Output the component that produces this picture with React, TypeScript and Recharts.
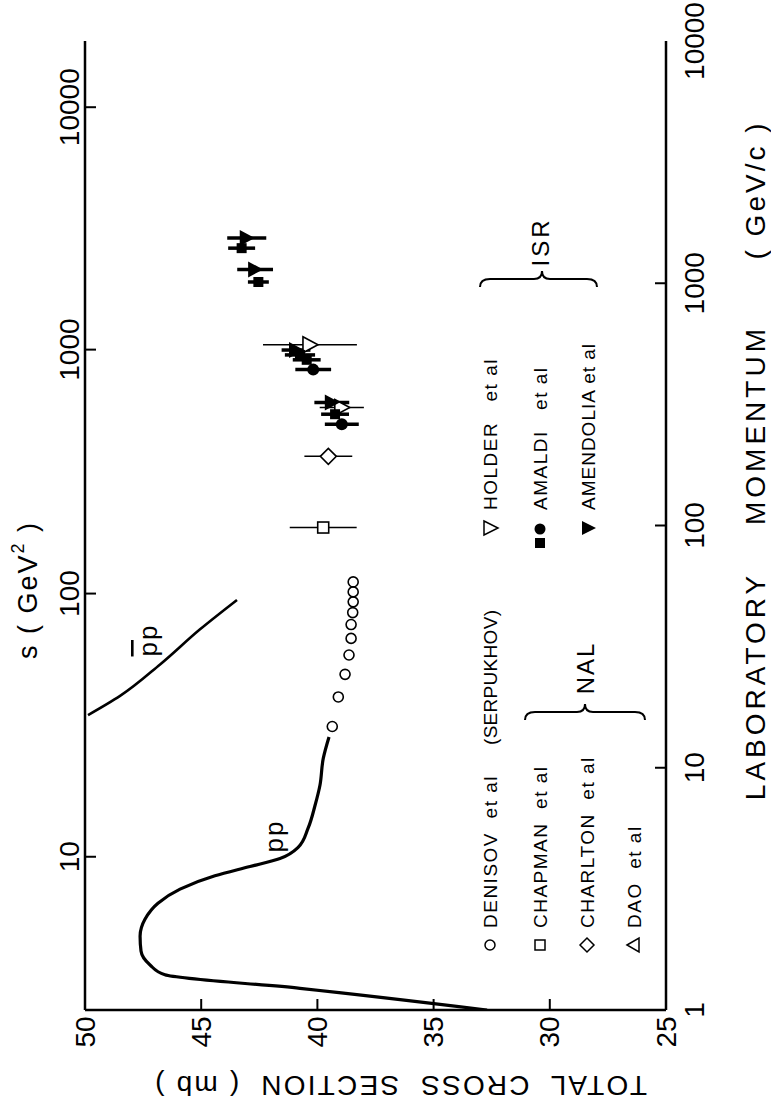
import React from 'react';
import { ScatterChart, Scatter, XAxis, YAxis, ErrorBar } from 'recharts';

const FONT = "'Liberation Sans', Arial, sans-serif";

// ---- axis ticks ----
const sigmaTicks = [50, 45, 40, 35, 30, 25];
const momentumTicks = [1, 10, 100, 1000, 10000];
const sTicks = [10, 100, 1000, 10000];
const PROTON_MASS = 0.938;

// ---- pp smooth curve (momentum GeV/c, sigma mb) ----
const ppMomentum = [13.4, 10.9, 8.47, 7.0, 5.63, 4.69, 4.22, 3.91, 3.58, 3.155, 2.76, 2.37, 2.018, 1.751, 1.534, 1.397, 1.229, 1.0];
const ppSigma = [39.5, 39.75, 39.89, 40.1, 40.4, 40.83, 41.61, 42.9, 44.41, 45.91, 46.86, 47.42, 47.63, 47.59, 47.2, 46.56, 40.75, 32.7];

// ---- pbar p smooth curve ----
const pbarMomentum = [49.3, 37.3, 26.7, 19.8, 16.5];
const pbarSigma = [43.46, 45.05, 46.77, 48.49, 49.87];

// ---- DENISOV et al (Serpukhov) ----
const denisovMomentum = [14.8, 19.6, 24.3, 29.2, 34.2, 39.0, 43.7, 48.4, 53.2, 58.5];
const denisovSigma = [39.36, 39.1, 38.81, 38.64, 38.55, 38.55, 38.48, 38.46, 38.46, 38.46];

// ---- NAL ----
const chapmanMomentum = [98.1];
const chapmanSigma = [39.75];
const chapmanErr = [1.44];

const charltonMomentum = [193];
const charltonSigma = [39.53];
const charltonErr = [1.03];

// ---- ISR ----
const holderMomentum = [307, 557];
const holderSigma = [38.95, 40.32];
const holderErr = [0.95, 2.02];

const amaldiSqMomentum = [288, 483, 506, 1012, 1396];
const amaldiSqSigma = [39.24, 40.46, 40.75, 42.54, 43.26];
const amaldiSqErr = [0.6, 0.6, 0.65, 0.45, 0.58];

const amaldiCircMomentum = [262, 440];
const amaldiCircSigma = [38.95, 40.18];
const amaldiCircErr = [0.73, 0.77];

const amendoliaMomentum = [322, 530, 1140, 1537];
const amendoliaSigma = [39.38, 40.92, 42.68, 43.04];
const amendoliaErr = [0.75, 0.62, 0.77, 0.84];

// ---- build rows ----
const rows = (p: number[], s: number[], e?: number[]) =>
  p.map((v, i) => ({ p: v, sigma: s[i], err: e ? e[i] : 0 }));

const ppData = rows(ppMomentum, ppSigma);
const pbarData = rows(pbarMomentum, pbarSigma);
const denisovData = rows(denisovMomentum, denisovSigma);
const chapmanData = rows(chapmanMomentum, chapmanSigma, chapmanErr);
const charltonData = rows(charltonMomentum, charltonSigma, charltonErr);
const holderData = rows(holderMomentum, holderSigma, holderErr);
const amaldiSqData = rows(amaldiSqMomentum, amaldiSqSigma, amaldiSqErr);
const amaldiCircData = rows(amaldiCircMomentum, amaldiCircSigma, amaldiCircErr);
const amendoliaData = rows(amendoliaMomentum, amendoliaSigma, amendoliaErr);

// s (GeV^2) -> lab momentum (GeV/c), for the secondary axis
const sToP = (s: number) => {
  const m = PROTON_MASS;
  const E = (s - 2 * m * m) / (2 * m);
  return Math.sqrt(E * E - m * m);
};
const sTickPositions = sTicks.map(sToP);

// ---- layout ----
const W = 771;
const H = 1109;
const PL = 85;
const PR = 666;
const PT = 41;
const PB = 1010;
const TICK = 11;

// ---- markers ----
const none = () => <g />;
const OpenCircle = (props: any) => (
  <circle cx={props.cx} cy={props.cy} r={5} fill="#fff" stroke="#000" strokeWidth={1.6} />
);
const OpenSquare = (props: any) => (
  <rect x={props.cx - 5.5} y={props.cy - 5.5} width={11} height={11} fill="#fff" stroke="#000" strokeWidth={1.6} />
);
const OpenDiamond = (props: any) => {
  const { cx, cy } = props;
  return (
    <path d={`M${cx - 8},${cy} L${cx},${cy - 8} L${cx + 8},${cy} L${cx},${cy + 8} Z`} fill="#fff" stroke="#000" strokeWidth={1.6} />
  );
};
const OpenTriRight = (props: any) => {
  const { cx, cy } = props;
  return (
    <path d={`M${cx - 7},${cy - 8} L${cx + 8},${cy} L${cx - 7},${cy + 8} Z`} fill="#fff" stroke="#000" strokeWidth={1.6} />
  );
};
const FilledTriRight = (props: any) => {
  const { cx, cy } = props;
  return <path d={`M${cx - 7},${cy - 8} L${cx + 8},${cy} L${cx - 7},${cy + 8} Z`} fill="#000" />;
};
const FilledSquare = (props: any) => (
  <rect x={props.cx - 5} y={props.cy - 5} width={10} height={10} fill="#000" />
);
const FilledCircle = (props: any) => <circle cx={props.cx} cy={props.cy} r={6} fill="#000" />;

// ---- ticks ----
const txt = {
  fontFamily: FONT,
  fill: '#000',
};

const BottomTick = (props: any) => {
  const { x, payload } = props;
  const v = payload.value;
  const inner = v !== 50 && v !== 25;
  return (
    <g>
      {inner && <line x1={x} x2={x} y1={PB} y2={PB - TICK} stroke="#000" strokeWidth={2} />}
      <text
        transform={`translate(${x},${PB + 22}) rotate(-90)`}
        textAnchor="middle"
        dominantBaseline="central"
        fontSize={28}
        {...txt}
      >
        {v}
      </text>
    </g>
  );
};

const RightTick = (props: any) => {
  const { y, payload } = props;
  const v = payload.value;
  const inner = v !== 1 && v !== 10000;
  return (
    <g>
      {inner && <line x1={PR} x2={PR - TICK} y1={y} y2={y} stroke="#000" strokeWidth={2} />}
      <text
        transform={`translate(${694},${y}) rotate(-90)`}
        textAnchor="middle"
        dominantBaseline="central"
        fontSize={28}
        {...txt}
      >
        {v}
      </text>
    </g>
  );
};

const LeftTick = (props: any) => {
  const { y, payload } = props;
  const idx = sTickPositions.findIndex((q) => Math.abs(q - payload.value) < 1e-6 * q);
  const label = idx >= 0 ? sTicks[idx] : '';
  return (
    <g>
      <line x1={PL} x2={PL + TICK} y1={y} y2={y} stroke="#000" strokeWidth={2} />
      <text
        transform={`translate(${69},${y}) rotate(-90)`}
        textAnchor="middle"
        dominantBaseline="central"
        fontSize={28}
        {...txt}
      >
        {label}
      </text>
    </g>
  );
};

// ---- overlay text helpers ----
const RT = (props: any) => {
  const { x, y, size = 19, anchor = 'start', rot = -90, ls = 1.5, children } = props;
  return (
    <text
      transform={`translate(${x},${y}) rotate(${rot})`}
      textAnchor={anchor}
      dominantBaseline="central"
      fontSize={size}
      letterSpacing={ls}
      fontFamily={FONT}
      fill="#000"
      style={{ whiteSpace: 'pre' }}
    >
      {children}
    </text>
  );
};

const Brace = (props: any) => {
  const { x1, x2, y, tip } = props;
  const d = 8;
  return (
    <path
      d={`M${x1},${y + d} Q${x1},${y} ${x1 + 10},${y} L${tip - 8},${y} Q${tip},${y} ${tip},${y - d} Q${tip},${y} ${tip + 8},${y} L${x2 - 10},${y} Q${x2},${y} ${x2},${y + d}`}
      fill="none"
      stroke="#000"
      strokeWidth={2}
    />
  );
};

const axisLine = { stroke: '#000', strokeWidth: 2.5 };

export default function App() {
  return (
    <div style={{ position: 'absolute', left: 0, top: 0, width: W, height: H, background: '#fff' }}>
      <ScatterChart width={W} height={H} margin={{ top: PT, right: 0, bottom: 0, left: 0 }}>
        <XAxis
          xAxisId="b"
          type="number"
          dataKey="sigma"
          domain={[25, 50]}
          reversed
          allowDataOverflow
          ticks={sigmaTicks}
          interval={0}
          tick={<BottomTick />}
          tickLine={false}
          axisLine={axisLine}
          height={H - PB}
        />
        <XAxis
          xAxisId="t"
          orientation="top"
          type="number"
          dataKey="sigma"
          domain={[25, 50]}
          reversed
          allowDataOverflow
          tick={false}
          tickLine={false}
          axisLine={axisLine}
          height={0}
        />
        <YAxis
          yAxisId="p"
          orientation="right"
          type="number"
          dataKey="p"
          scale="log"
          domain={[1, 10000]}
          allowDataOverflow
          ticks={momentumTicks}
          interval={0}
          tick={<RightTick />}
          tickLine={false}
          axisLine={axisLine}
          width={W - PR}
        />
        <YAxis
          yAxisId="s"
          orientation="left"
          type="number"
          dataKey="p"
          scale="log"
          domain={[1, 10000]}
          allowDataOverflow
          ticks={sTickPositions}
          interval={0}
          tick={<LeftTick />}
          tickLine={false}
          axisLine={axisLine}
          width={PL}
        />

        <Scatter
          name="pp"
          xAxisId="b"
          yAxisId="p"
          data={ppData}
          line={{ stroke: '#000', strokeWidth: 3.2 }}
          lineJointType="monotoneY"
          shape={none}
          isAnimationActive={false}
        />
        <Scatter
          name="pbar p"
          xAxisId="b"
          yAxisId="p"
          data={pbarData}
          line={{ stroke: '#000', strokeWidth: 2.6 }}
          lineJointType="monotoneY"
          shape={none}
          isAnimationActive={false}
        />
        <Scatter name="Denisov" xAxisId="b" yAxisId="p" data={denisovData} shape={OpenCircle} isAnimationActive={false} />
        <Scatter name="Chapman" xAxisId="b" yAxisId="p" data={chapmanData} shape={OpenSquare} isAnimationActive={false}>
          <ErrorBar dataKey="err" direction="x" width={0} stroke="#000" strokeWidth={1.5} />
        </Scatter>
        <Scatter name="Charlton" xAxisId="b" yAxisId="p" data={charltonData} shape={OpenDiamond} isAnimationActive={false}>
          <ErrorBar dataKey="err" direction="x" width={0} stroke="#000" strokeWidth={1.5} />
        </Scatter>
        <Scatter name="Holder" xAxisId="b" yAxisId="p" data={holderData} shape={OpenTriRight} isAnimationActive={false}>
          <ErrorBar dataKey="err" direction="x" width={0} stroke="#000" strokeWidth={1.5} />
        </Scatter>
        <Scatter name="Amaldi sq" xAxisId="b" yAxisId="p" data={amaldiSqData} shape={FilledSquare} isAnimationActive={false}>
          <ErrorBar dataKey="err" direction="x" width={0} stroke="#000" strokeWidth={3.5} />
        </Scatter>
        <Scatter name="Amaldi circ" xAxisId="b" yAxisId="p" data={amaldiCircData} shape={FilledCircle} isAnimationActive={false}>
          <ErrorBar dataKey="err" direction="x" width={0} stroke="#000" strokeWidth={3.5} />
        </Scatter>
        <Scatter name="Amendolia" xAxisId="b" yAxisId="p" data={amendoliaData} shape={FilledTriRight} isAnimationActive={false}>
          <ErrorBar dataKey="err" direction="x" width={0} stroke="#000" strokeWidth={3.5} />
        </Scatter>
      </ScatterChart>

      <svg width={W} height={H} style={{ position: 'absolute', left: 0, top: 0, pointerEvents: 'none' }}>
        {/* axis titles */}
        <RT x={28} y={590} size={27} anchor="middle" ls={2}>
          {'s ( GeV'}
          <tspan fontSize={18} dy={-10}>2</tspan>
          <tspan dy={10}>{' )'}</tspan>
        </RT>
        <RT x={755} y={686} size={28} anchor="middle" ls={4}>LABORATORY</RT>
        <RT x={755} y={425} size={28} anchor="middle" ls={4}>MOMENTUM</RT>
        <RT x={755} y={190} size={28} anchor="middle" ls={3}>{'( GeV/c )'}</RT>
        <RT x={400} y={1085} size={28} anchor="middle" rot={180} ls={2.2}>{'TOTAL  CROSS  SECTION  ( mb )'}</RT>

        {/* curve labels */}
        <RT x={274} y={836} size={26} anchor="middle" ls={2}>pp</RT>
        <RT x={148} y={640} size={26} anchor="middle" ls={2}>
          <tspan style={{ textDecoration: 'overline' }}>p</tspan>
          <tspan>p</tspan>
        </RT>

        {/* legend: NAL / Serpukhov */}
        <circle cx={490} cy={945} r={5} fill="#fff" stroke="#000" strokeWidth={1.5} />
        <RT x={490} y={928}>{'DENISOV  et al'}</RT>
        <RT x={490} y={745} ls={0.3}>{'(SERPUKHOV)'}</RT>

        <rect x={535} y={940} width={10} height={10} fill="#fff" stroke="#000" strokeWidth={1.5} />
        <RT x={540} y={928}>{'CHAPMAN  et al'}</RT>

        <path d="M580,945 L587,938 L594,945 L587,952 Z" fill="#fff" stroke="#000" strokeWidth={1.5} />
        <RT x={587} y={928}>{'CHARLTON  et al'}</RT>

        <path d="M627,945 L639,938 L639,952 Z" fill="#fff" stroke="#000" strokeWidth={1.5} />
        <RT x={634} y={928}>{'DAO  et al'}</RT>

        <Brace x1={525} x2={645} y={712} tip={585} />
        <RT x={585} y={668} size={24} anchor="middle" ls={2}>NAL</RT>

        {/* legend: ISR */}
        <path d="M484,521 L498,528 L484,535 Z" fill="#fff" stroke="#000" strokeWidth={1.5} />
        <RT x={490} y={510}>{'HOLDER   et al'}</RT>

        <circle cx={540} cy={529} r={5.5} fill="#000" />
        <rect x={535} y={538} width={10} height={10} fill="#000" />
        <RT x={540} y={510}>{'AMALDI   et al'}</RT>

        <path d="M582,521 L596,528 L582,535 Z" fill="#000" />
        <RT x={588} y={510} ls={1}>{'AMENDOLIA et al'}</RT>

        <Brace x1={480} x2={597} y={279} tip={542} />
        <RT x={540} y={242} size={24} anchor="middle" ls={3}>ISR</RT>
      </svg>
    </div>
  );
}
